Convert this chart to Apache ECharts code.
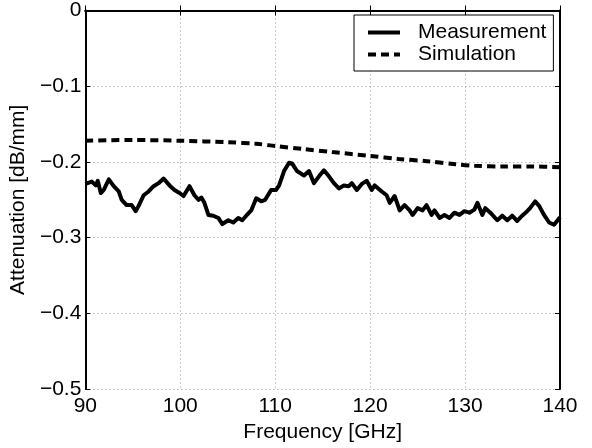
<!DOCTYPE html>
<html>
<head>
<meta charset="utf-8">
<script src="https://cdn.jsdelivr.net/npm/echarts@6/dist/echarts.min.js"></script>
<style>html,body{margin:0;padding:0;background:#fff}#c{width:592px;height:448px}</style>
</head>
<body>
<div id="c"></div>
<script>
const xTicks = [90, 100, 110, 120, 130, 140];
const yTicks = [0, -0.1, -0.2, -0.3, -0.4, -0.5];
const measFreq = [90.0, 90.16, 90.68, 91.10, 91.31, 91.63, 91.94, 92.47, 92.99, 93.52, 93.83, 94.35, 94.88, 95.30, 95.61, 96.14, 96.66, 97.19, 97.71, 98.24, 98.87, 99.39, 99.92, 100.34, 100.97, 101.49, 101.91, 102.22, 102.54, 102.96, 103.48, 104.01, 104.43, 105.06, 105.58, 106.11, 106.53, 106.95, 107.47, 108.00, 108.52, 108.94, 109.57, 110.09, 110.41, 110.93, 111.46, 111.77, 112.30, 113.03, 113.56, 114.08, 114.61, 115.13, 115.66, 116.18, 116.71, 117.23, 117.76, 118.07, 118.60, 119.12, 119.64, 120.17, 120.48, 121.22, 121.74, 122.06, 122.58, 123.11, 123.63, 124.16, 124.47, 125.00, 125.52, 125.94, 126.47, 126.78, 127.31, 127.83, 128.36, 128.88, 129.41, 129.93, 130.46, 130.98, 131.30, 131.82, 132.13, 132.66, 133.39, 133.92, 134.44, 134.96, 135.49, 136.01, 136.54, 136.85, 137.38, 137.80, 138.32, 138.85, 139.37, 139.69, 140.0];
const measVals = [-0.229, -0.230, -0.226, -0.231, -0.225, -0.241, -0.237, -0.223, -0.232, -0.239, -0.250, -0.257, -0.257, -0.265, -0.258, -0.244, -0.239, -0.232, -0.228, -0.222, -0.231, -0.237, -0.241, -0.245, -0.232, -0.244, -0.250, -0.247, -0.254, -0.270, -0.271, -0.274, -0.282, -0.277, -0.280, -0.274, -0.277, -0.271, -0.264, -0.248, -0.252, -0.250, -0.237, -0.237, -0.231, -0.212, -0.201, -0.202, -0.212, -0.218, -0.212, -0.228, -0.219, -0.211, -0.219, -0.228, -0.235, -0.231, -0.232, -0.228, -0.237, -0.229, -0.225, -0.237, -0.231, -0.239, -0.244, -0.254, -0.245, -0.264, -0.257, -0.264, -0.270, -0.261, -0.264, -0.257, -0.270, -0.264, -0.274, -0.270, -0.274, -0.267, -0.270, -0.265, -0.267, -0.263, -0.254, -0.270, -0.261, -0.267, -0.277, -0.271, -0.277, -0.271, -0.278, -0.271, -0.265, -0.261, -0.252, -0.258, -0.270, -0.280, -0.283, -0.278, -0.273];
const simFreq = [90, 95, 100, 105, 108, 110, 113, 116, 120, 123, 126, 129, 131, 134, 137, 140];
const simVals = [-0.172, -0.171, -0.172, -0.174, -0.176, -0.179, -0.183, -0.187, -0.192, -0.196, -0.199, -0.203, -0.205, -0.206, -0.206, -0.207];
const seriesNames = ['Measurement', 'Simulation'];

const FONT = 'Liberation Sans, Arial, Helvetica, sans-serif';
const FS = 21;
const chart = echarts.init(document.getElementById('c'), null, {renderer: 'canvas'});
const fmtY = v => { const r = Math.round(v * 10) / 10; return r === 0 ? '0' : (r < 0 ? '\u2212' + Math.abs(r) : String(r)); };
const baseAxisLine = {show: true, lineStyle: {color: '#000', width: 2}};
chart.setOption({
  animation: false,
  backgroundColor: '#fff',
  grid: {left: 83.5, right: 32, top: 10.5, bottom: 55, containLabel: false},
  legend: {
    data: seriesNames,
    orient: 'vertical',
    left: 354, top: 15,
    padding: [7, 7, 6, 12],
    itemGap: 1,
    itemWidth: 32, itemHeight: 20,
    backgroundColor: '#fff',
    borderColor: '#000', borderWidth: 1,
    itemStyle: {opacity: 0},
    lineStyle: {width: 4},
    textStyle: {fontFamily: FONT, fontSize: FS, color: '#000', padding: [0, 0, 0, 13]}
  },
  xAxis: [{
    type: 'value', min: xTicks[0], max: xTicks[xTicks.length - 1], interval: 10,
    name: 'Frequency [GHz]', nameLocation: 'middle', nameGap: 28,
    nameTextStyle: {fontFamily: FONT, fontSize: FS, color: '#000'},
    axisLine: baseAxisLine,
    axisTick: {show: true, inside: true, length: 5, lineStyle: {color: '#000', width: 1}},
    axisLabel: {fontFamily: FONT, fontSize: FS, color: '#000', margin: 7},
    splitLine: {show: true, lineStyle: {color: '#999', type: [1, 3], width: 1}}
  }, {
    type: 'value', position: 'top', min: 90, max: 140, interval: 10,
    axisLine: baseAxisLine,
    axisTick: {show: true, inside: true, length: 5, lineStyle: {color: '#000', width: 1}},
    axisLabel: {show: false}, splitLine: {show: false}
  }],
  yAxis: [{
    type: 'value', min: yTicks[yTicks.length - 1], max: yTicks[0], interval: 0.1,
    name: 'Attenuation [dB/mm]', nameLocation: 'middle', nameGap: 46, nameRotate: 90,
    nameTextStyle: {fontFamily: FONT, fontSize: FS, color: '#000'},
    axisLine: baseAxisLine,
    axisTick: {show: true, inside: true, length: 5, lineStyle: {color: '#000', width: 1}},
    axisLabel: {fontFamily: FONT, fontSize: FS, color: '#000', margin: 4, formatter: fmtY},
    splitLine: {show: true, lineStyle: {color: '#999', type: [1, 3], width: 1}}
  }, {
    type: 'value', position: 'right', min: -0.5, max: 0, interval: 0.1,
    axisLine: baseAxisLine,
    axisTick: {show: true, inside: true, length: 5, lineStyle: {color: '#000', width: 1}},
    axisLabel: {show: false}, splitLine: {show: false}
  }],
  series: [{
    name: seriesNames[0], type: 'line', symbol: 'none',
    xAxisIndex: 0, yAxisIndex: 0,
    data: measFreq.map((f, i) => [f, measVals[i]]),
    lineStyle: {color: '#000', width: 4, join: 'round'},
    itemStyle: {color: '#000'}
  }, {
    name: seriesNames[1], type: 'line', symbol: 'none',
    xAxisIndex: 0, yAxisIndex: 0, smooth: 0.3,
    data: simFreq.map((f, i) => [f, simVals[i]]),
    lineStyle: {color: '#000', width: 4, type: [8, 5]},
    itemStyle: {color: '#000'}
  }]
});
</script>
</body>
</html>
